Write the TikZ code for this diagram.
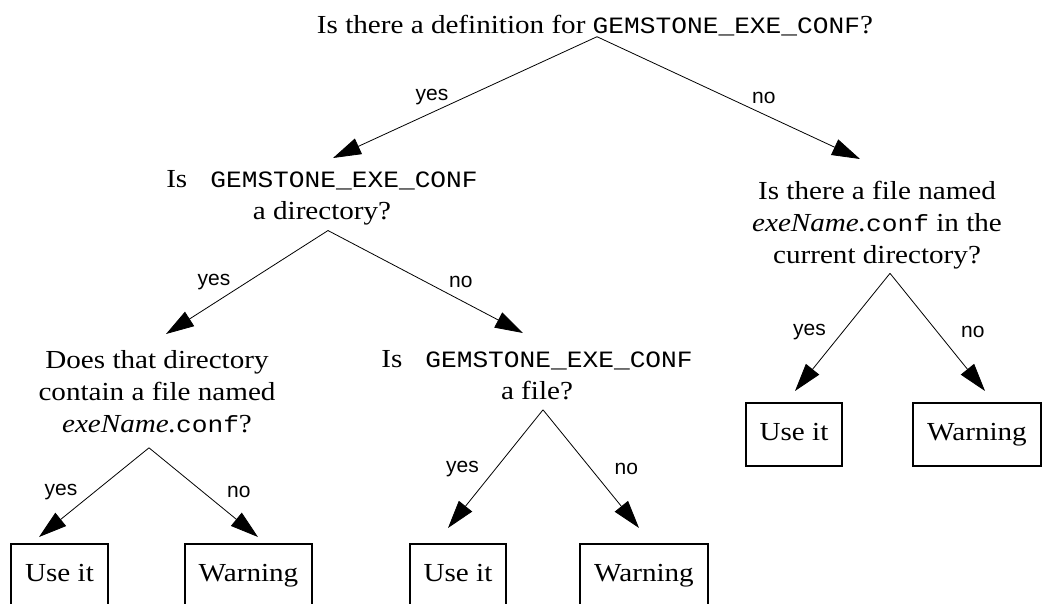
\documentclass[tikz,border=0pt]{standalone}
\usepackage{fontspec}
\setmainfont{Liberation Serif}[FakeStretch=1.12]
\setsansfont{Liberation Sans}
\setmonofont{Liberation Mono}[Scale=0.9,FakeStretch=1.12]
\usepackage{tikz}
\usetikzlibrary{positioning,arrows.meta}

\begin{document}
\begin{tikzpicture}[x=1pt, y=-1pt, font=\fontsize{26}{32}\selectfont,
    question/.style={align=center, inner sep=0pt, anchor=north},
    outcome/.style={draw, line width=2pt, anchor=north, minimum height=63pt, inner xsep=14pt, text height=17pt, text depth=5pt},
    branch/.style={-{Triangle[length=28pt,width=17pt]}, line width=0.8pt},
    yeslabel/.style={midway, left=13pt, font=\sffamily\fontsize{21}{25}\selectfont},
    nolabel/.style={midway, right=20pt, font=\sffamily\fontsize{21}{25}\selectfont}]

    \useasboundingbox (0,0) rectangle (1043,603);

    \node[question, anchor=base] (q1) at (595,33) {Is there a definition for \texttt{GEMSTONE\_EXE\_CONF}?};
    \node[question] (q2) at (322,170.5) {Is \texttt{\ GEMSTONE\_EXE\_CONF}\\a directory?};
    \node[question] (q3) at (877,181) {Is there a file named\\\textit{exeName.}\texttt{conf} in the\\current directory?};
    \node[question] (q4) at (157,350) {Does that directory\\contain a file named\\\textit{exeName.}\texttt{conf}?};
    \node[question] (q5) at (537,350) {Is \texttt{\ GEMSTONE\_EXE\_CONF}\\a file?};

    \node[outcome] (use4) at (59.5,543) {Use it};
    \node[outcome] (warn4) at (248.5,543) {Warning};
    \node[outcome] (use5) at (458,543) {Use it};
    \node[outcome] (warn5) at (644,543) {Warning};
    \node[outcome] (use3) at (794,402) {Use it};
    \node[outcome] (warn3) at (977,402) {Warning};

    \draw[branch] ([xshift=2pt,yshift=-1pt]q1.south) -- node[yeslabel] {yes} ([xshift=11pt,yshift=12.5pt]q2.north);
    \draw[branch] ([xshift=2pt,yshift=-1pt]q1.south) -- node[nolabel] {no} ([xshift=-17pt,yshift=22pt]q3.north);
    \draw[branch] ([xshift=6pt,yshift=-5pt]q2.south) -- node[yeslabel] {yes} ([xshift=9pt,yshift=16pt]q4.north);
    \draw[branch] ([xshift=6pt,yshift=-5pt]q2.south) -- node[nolabel] {no} ([xshift=-14pt,yshift=17pt]q5.north);
    \draw[branch] ([xshift=13pt,yshift=-4pt]q3.south) -- node[yeslabel] {yes} ([xshift=1pt,yshift=11pt]use3.north);
    \draw[branch] ([xshift=13pt,yshift=-4pt]q3.south) -- node[nolabel] {no} ([xshift=8pt,yshift=11pt]warn3.north);
    \draw[branch] ([xshift=-8pt,yshift=-15pt]q4.south) -- node[yeslabel] {yes} ([xshift=-20.5pt,yshift=6pt]use4.north);
    \draw[branch] ([xshift=-8pt,yshift=-15pt]q4.south) -- node[nolabel] {no} ([xshift=9.5pt,yshift=6pt]warn4.north);
    \draw[branch] ([xshift=6pt,yshift=-10pt]q5.south) -- node[yeslabel] {yes} ([xshift=-10pt,yshift=15pt]use5.north);
    \draw[branch] ([xshift=6pt,yshift=-10pt]q5.south) -- node[nolabel] {no} ([xshift=-5pt,yshift=15pt]warn5.north);
\end{tikzpicture}
\end{document}
